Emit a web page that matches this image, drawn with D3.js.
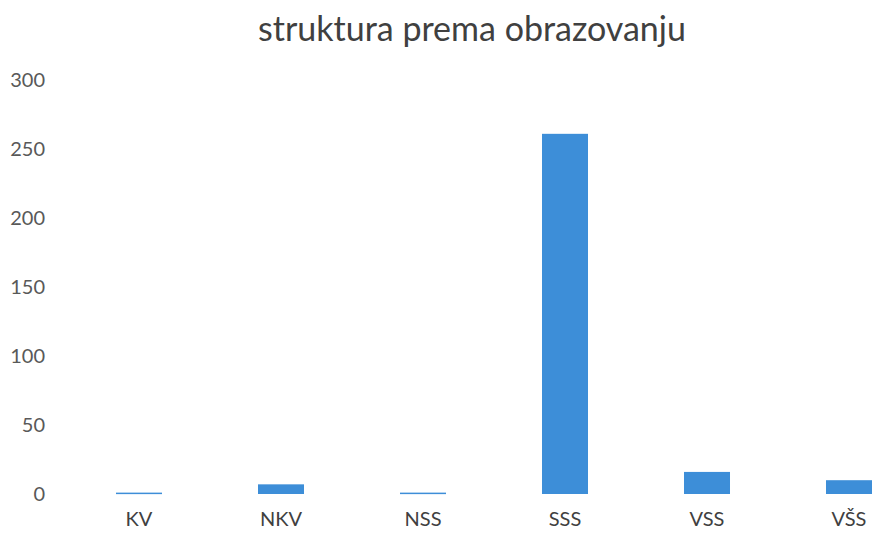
<!DOCTYPE html>
<html>
<head>
<meta charset="utf-8">
<script src="https://cdn.jsdelivr.net/npm/d3@7"></script>
<style>
  body { margin: 0; background: #fff; }
  svg { display: block; font-family: Lato, "Open Sans", sans-serif; }
</style>
</head>
<body>
<div id="chart"></div>
<script>
const categories = ["KV", "NKV", "NSS", "SSS", "VSS", "VŠS"];
const values = [1, 7, 1, 261, 16, 10];
const yTicks = [0, 50, 100, 150, 200, 250, 300];

const width = 872, height = 536;
// plot area runs past the right edge (the original is cropped)
const margin = {top: 80, right: -48, bottom: 42, left: 68};

const svg = d3.select("#chart").append("svg")
    .attr("width", width)
    .attr("height", height);

const x = d3.scaleBand()
    .domain(categories)
    .range([margin.left, width - margin.right])
    .paddingInner(0.676)
    .paddingOuter(0.338);

const y = d3.scaleLinear()
    .domain([0, 300])
    .range([height - margin.bottom, margin.top]);

svg.append("text")
    .attr("x", 472)
    .attr("y", 41)
    .attr("text-anchor", "middle")
    .attr("fill", "#404040")
    .style("font-size", "34px")
    .text("struktura prema obrazovanju");

// y axis labels only, no line or ticks
const yAxis = svg.append("g")
    .attr("transform", `translate(45,0)`)
    .call(d3.axisLeft(y).tickValues(yTicks).tickSize(0).tickPadding(0));
yAxis.select(".domain").remove();
yAxis.selectAll("text")
    .attr("fill", "#595959")
    .style("font-size", "20px")
    .style("font-family", "Lato, 'Open Sans', sans-serif");

svg.append("g")
    .selectAll("rect")
    .data(values)
    .join("rect")
    .attr("x", (d, i) => x(categories[i]))
    .attr("y", d => y(d))
    .attr("width", x.bandwidth())
    .attr("height", d => Math.max(1.5, y(0) - y(d)))
    .attr("fill", "#3d8ed8");

const xAxis = svg.append("g")
    .attr("transform", `translate(0,${y(0)})`)
    .call(d3.axisBottom(x).tickSize(0).tickPadding(18));
xAxis.select(".domain").remove();
xAxis.selectAll("text")
    .attr("fill", "#404040")
    .style("font-size", "20px")
    .style("font-family", "Lato, 'Open Sans', sans-serif");
</script>
</body>
</html>
